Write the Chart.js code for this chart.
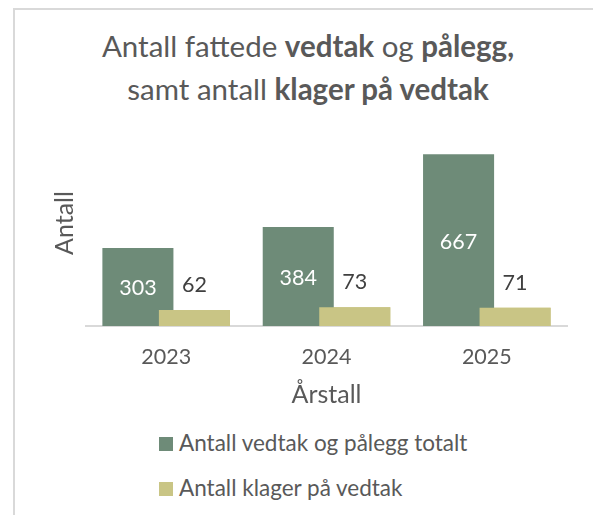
<!DOCTYPE html>
<html lang="no">
<head>
<meta charset="utf-8">
<script src="https://cdn.jsdelivr.net/npm/chart.js@4"></script>
<style>
  html, body { margin: 0; padding: 0; background: #fff; }
  body { width: 593px; height: 515px; position: relative; overflow: hidden; font-family: Lato, "Open Sans", sans-serif; color: #595959; }
  .frame { position: absolute; left: 13px; top: 8px; width: 700px; height: 600px; border-top: 2px solid #d9d9d9; border-left: 2px solid #d9d9d9; }
  .title { position: absolute; left: 0; top: 24px; width: 616px; text-align: center; font-size: 29.5px; line-height: 43px; }
  .title b { font-weight: 700; }
  canvas { position: absolute; left: 0; top: 0; }
  .legend-row { position: absolute; left: 159px; font-size: 22.5px; line-height: 27px; white-space: nowrap; }
  .legend-row i { display: inline-block; width: 14px; height: 14px; margin-right: 6px; vertical-align: 0; }
</style>
</head>
<body>
<div class="frame"></div>
<div class="title">Antall fattede <b>vedtak</b> og <b>pålegg,</b><br>samt antall <b>klager på vedtak</b></div>
<canvas id="chart" width="593" height="420"></canvas>
<div id="legend"></div>
<script>
'use strict';

// ─── Data ─────────────────────────────────────────────────────────────────────
const years       = ['2023', '2024', '2025'];
const seriesNames = ['Antall vedtak og pålegg totalt', 'Antall klager på vedtak'];
const vedtak      = [303, 384, 667];
const klager      = [62, 73, 71];
const colors      = ['#6e8b78', '#c9c585'];

// ─── Khaki bars on top of green, then value labels ───────────────────────────
const valueLabels = {
  id: 'valueLabels',
  afterDatasetsDraw(chart) {
    // Chart.js paints dataset 0 last; repaint the second series so it overlaps
    chart.getDatasetMeta(1).controller.draw();

    const ctx = chart.ctx;
    ctx.save();
    ctx.font = '21.5px Lato';
    ctx.textAlign = 'center';
    ctx.textBaseline = 'middle';
    chart.data.datasets.forEach((ds, di) => {
      chart.getDatasetMeta(di).data.forEach((bar, i) => {
        const v = ds.data[i];
        if (di === 0) {
          ctx.fillStyle = '#ffffff';
          ctx.fillText(String(v), bar.x, (bar.y + bar.base) / 2 + 1.5);
        } else {
          ctx.fillStyle = '#404040';
          ctx.fillText(String(v), bar.x, bar.y - 25);
        }
      });
    });
    ctx.restore();
  },
};

new Chart(document.getElementById('chart'), {
  type: 'bar',
  data: {
    labels: years,
    datasets: [
      { label: seriesNames[0], data: vedtak, backgroundColor: colors[0], borderWidth: 0 },
      { label: seriesNames[1], data: klager, backgroundColor: colors[1], borderWidth: 0 },
    ],
  },
  options: {
    responsive: false,
    animation: false,
    // overlapping pair: bars wider than their slot
    categoryPercentage: 0.705,
    barPercentage: 1.257,
    layout: { padding: { top: 120, right: 26, left: 0, bottom: 0 } },
    plugins: {
      legend:  { display: false },
      tooltip: { enabled: false },
    },
    scales: {
      x: {
        grid:   { display: false, drawTicks: false },
        border: { display: true, color: '#d9d9d9', width: 2 },
        ticks:  { color: '#595959', font: { family: 'Lato', size: 21.5 }, padding: 17.8 },
        title:  { display: true, text: 'Årstall', color: '#595959', font: { family: 'Lato', size: 25 }, padding: { top: 0, bottom: 9.7 } },
        afterFit: (s) => { s.height = 94; },
      },
      y: {
        min: 0,
        max: 800,
        grid:   { display: false, drawTicks: false },
        border: { display: false },
        ticks:  { display: false },
        title:  { display: true, text: 'Antall', color: '#595959', font: { family: 'Lato', size: 25 }, padding: { top: 50.3, bottom: 0 } },
        afterFit: (s) => { s.width = 86; },
      },
    },
  },
  plugins: [valueLabels],
});

// ─── HTML legend, one row per series ─────────────────────────────────────────
const legendTops = [428.8, 473.8];
document.getElementById('legend').innerHTML = seriesNames.map((name, i) =>
  `<div class="legend-row" style="top:${legendTops[i]}px"><i style="background:${colors[i]}"></i>${name}</div>`
).join('');
</script>
</body>
</html>
